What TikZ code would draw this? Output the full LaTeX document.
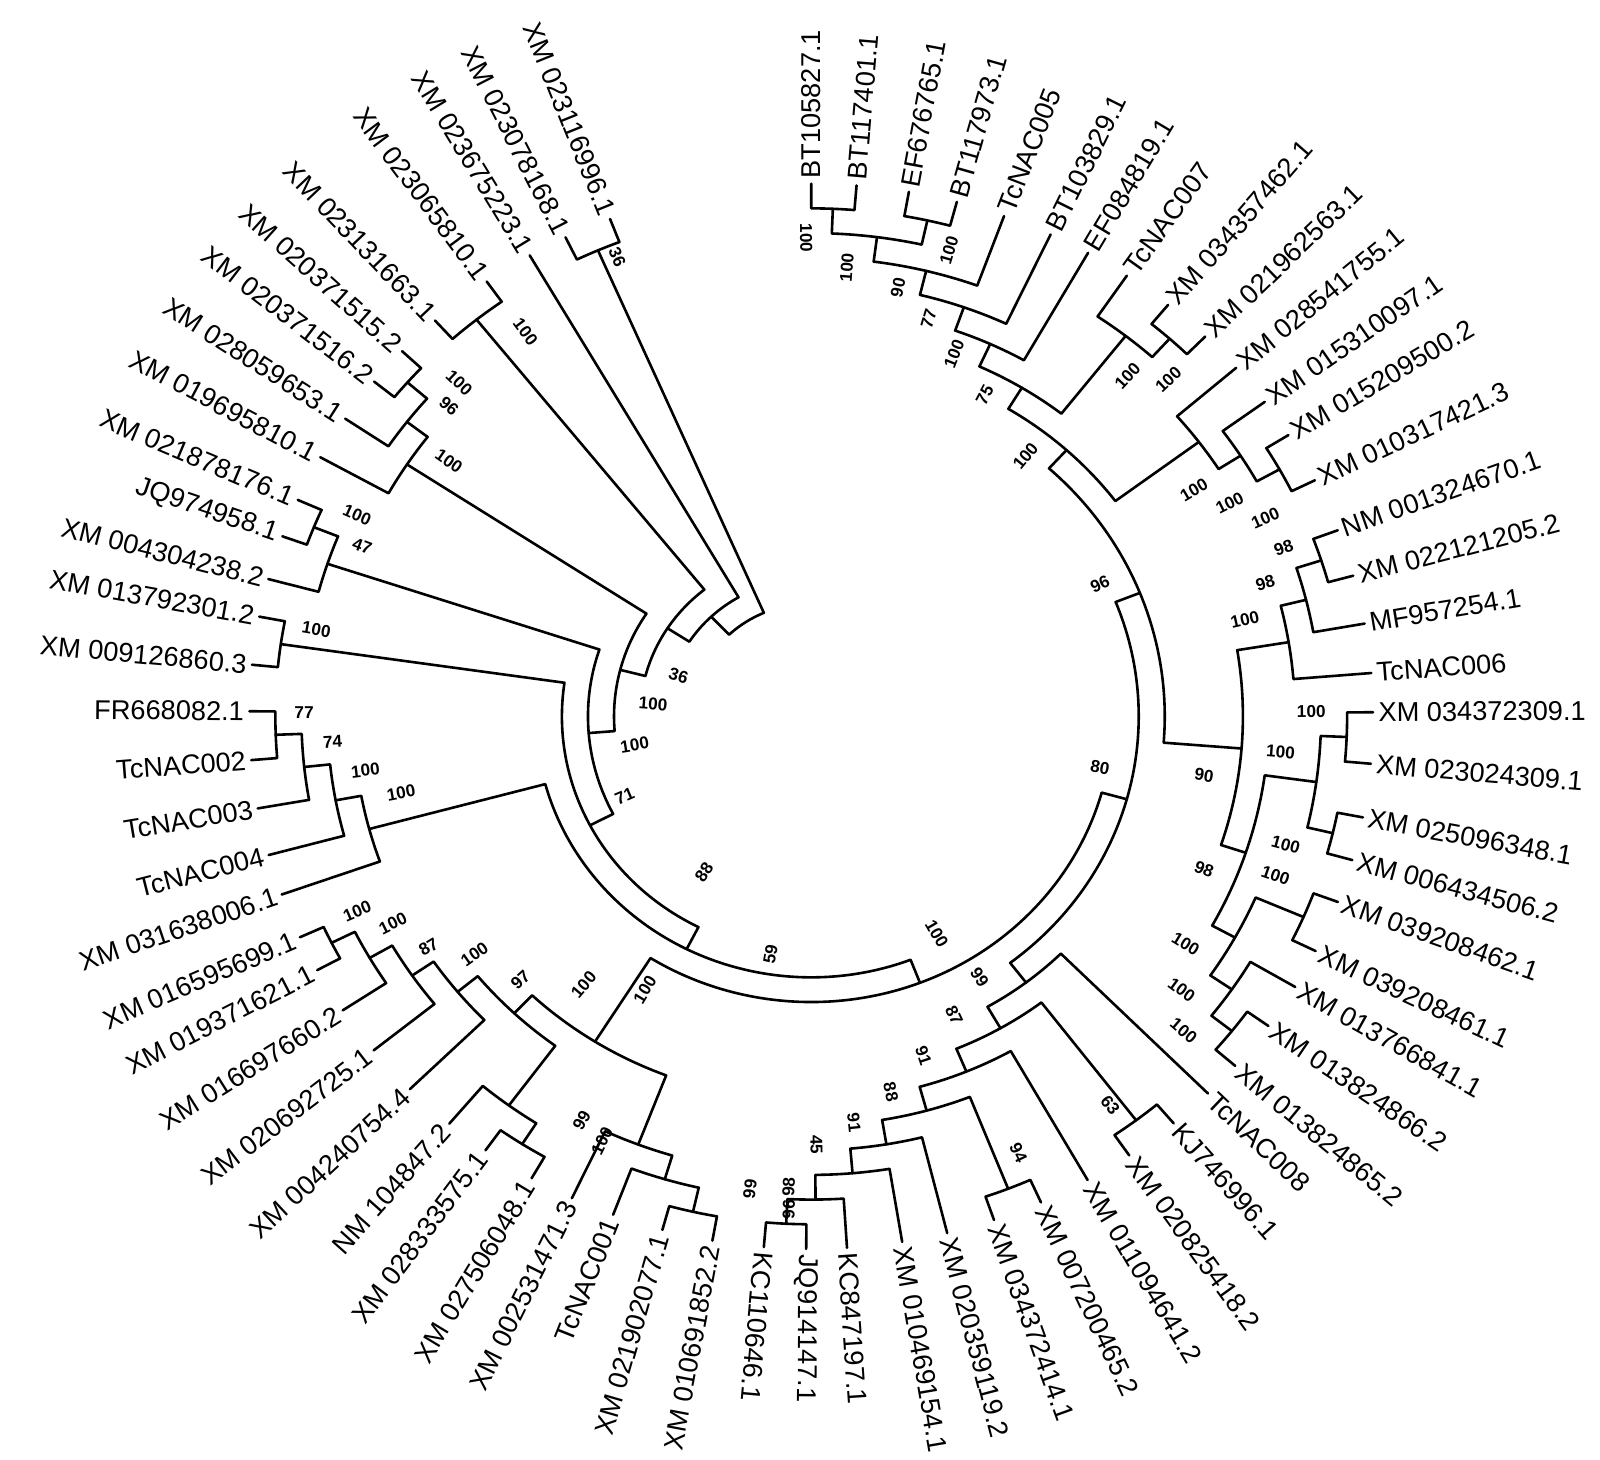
\documentclass[tikz,border=0pt]{standalone}
\usepackage{fontspec}
\setmainfont{Liberation Sans}
\newcount\bscount
\begin{document}
\begin{tikzpicture}[x=0.5102pt,y=0.5102pt,
  br/.style={line width=1.3pt,line join=round,line cap=round},
  leaflab/.style={font=\fontsize{13.6}{14}\selectfont,inner sep=2.5pt},
  bslab/.style={font=\fontsize{8.6}{9}\selectfont\bfseries,inner sep=0pt}]
\fill[white] (0,0) rectangle (1568,-1430);
\useasboundingbox (0,0) rectangle (1568,-1430);
% ---------- macros ----------
\newcommand\leafnode[5]{%
  \pgfmathsetmacro\tA{atan2(702-#3,(#2-795)/1.055)}%
  \pgfmathsetmacro\tA{\tA>100?\tA-360:\tA}%
  \expandafter\xdef\csname TA#1\endcsname{\tA}%
  \expandafter\xdef\csname TH#1\endcsname{0}%
  \pgfmathsetmacro\tP{atan2(sin(\tA),1.055*cos(\tA))}%
  \coordinate (#1) at ({795+1.055*522*cos(\tA)},{-702+522*sin(\tA)});%
  \ifx o#4%
    \node[leaflab,anchor=west,rotate=\tP] (#1t) at (#1) {#5};%
  \else
    \pgfmathsetmacro\tP{\tP+180}%
    \node[leaflab,anchor=east,rotate=\tP] (#1t) at (#1) {#5};%
  \fi}
\newcommand\inode[3]{%
  \edef\tA{\csname TA#2\endcsname}%
  \edef\tB{\csname TA#3\endcsname}%
  \pgfmathsetmacro\tM{(\tA+\tB)/2}%
  \pgfmathtruncatemacro\tH{max(\csname TH#2\endcsname,\csname TH#3\endcsname)+1}%
  \pgfmathsetmacro\tR{522-24.2*\tH}%
  \expandafter\xdef\csname TA#1\endcsname{\tM}%
  \expandafter\xdef\csname TH#1\endcsname{\tH}%
  \coordinate (#1) at ({795+1.055*\tR*cos(\tM)},{-702+\tR*sin(\tM)});%
  \coordinate (#1a) at ({795+1.055*\tR*cos(\tA)},{-702+\tR*sin(\tA)});%
  \coordinate (#1b) at ({795+1.055*\tR*cos(\tB)},{-702+\tR*sin(\tB)});%
  \draw[br] (#2) -- (#1a) arc[start angle=\tA,end angle=\tB,x radius={1.055*\tR},y radius=\tR] -- (#3);}
\newcommand\bs[3]{%
  \global\advance\bscount by 1
  \pgfmathsetmacro\tA{atan2(702-#2,(#1-795)/1.055)}%
  \pgfmathsetmacro\tP{atan2(sin(\tA),1.055*cos(\tA))}%
  \pgfmathsetmacro\tP{abs(\tP)>90?\tP+180:\tP}%
  \node[bslab,rotate=\tP] (bs\the\bscount) at (#1,-#2) {#3};}
% ---------- leaves ----------
\leafnode{l1}{795}{180}{o}{BT105827.1}
\leafnode{l2}{840}{175}{o}{BT117401.1}
\leafnode{l3}{887}{208}{o}{EF676765.1}
\leafnode{l4}{932}{218}{o}{BT117973.1}
\leafnode{l5}{975}{235}{o}{TcNAC005}
\leafnode{l6}{1022}{245}{o}{BT103829.1}
\leafnode{l7}{1062}{255}{o}{EF084819.1}
\leafnode{l8}{1108}{265}{o}{TcNAC007}
\leafnode{l9}{1148}{295}{o}{XM 034357462.1}
\leafnode{l10}{1183}{328}{o}{XM 021962563.1}
\leafnode{l11}{1212}{360}{o}{XM 028541755.1}
\leafnode{l12}{1245}{390}{o}{XM 015310097.1}
\leafnode{l13}{1265}{425}{o}{XM 015209500.2}
\leafnode{l14}{1290}{470}{o}{XM 010317421.3}
\leafnode{l15}{1310}{520}{o}{NM 001324670.1}
\leafnode{l16}{1323}{565}{o}{XM 022121205.2}
\leafnode{l17}{1332}{612}{o}{MF957254.1}
\leafnode{l18}{1338}{660}{o}{TcNAC006}
\leafnode{l19}{1342}{698}{o}{XM 034372309.1}
\leafnode{l20}{1338}{748}{o}{XM 023024309.1}
\leafnode{l21}{1330}{800}{o}{XM 025096348.1}
\leafnode{l22}{1322}{842}{o}{XM 006434506.2}
\leafnode{l23}{1300}{880}{o}{XM 039208462.1}
\leafnode{l24}{1285}{930}{o}{XM 039208461.1}
\leafnode{l25}{1260}{962}{o}{XM 013766841.1}
\leafnode{l26}{1235}{1000}{o}{XM 013824866.2}
\leafnode{l27}{1205}{1040}{o}{XM 013824865.2}
\leafnode{l28}{1180}{1068}{o}{TcNAC008}
\leafnode{l29}{1145}{1095}{o}{KJ746996.1}
\leafnode{l30}{1105}{1130}{o}{XM 020825418.2}
\leafnode{l31}{1068}{1160}{o}{XM 011094641.2}
\leafnode{l32}{1020}{1178}{o}{XM 007200465.2}
\leafnode{l33}{975}{1198}{o}{XM 034372414.1}
\leafnode{l34}{930}{1215}{o}{XM 020359119.2}
\leafnode{l35}{885}{1222}{o}{XM 010469154.1}
\leafnode{l36}{830}{1222}{o}{KC847197.1}
\leafnode{l37}{790}{1228}{o}{JQ914147.1}
\leafnode{l38}{748}{1228}{o}{KC110646.1}
\leafnode{l39}{703}{1190}{i}{XM 010691852.2}
\leafnode{l40}{655}{1185}{i}{XM 021902077.1}
\leafnode{l41}{605}{1180}{i}{TcNAC001}
\leafnode{l42}{565}{1165}{i}{XM 002531471.3}
\leafnode{l43}{525}{1148}{i}{XM 027506048.1}
\leafnode{l44}{485}{1115}{i}{XM 028333575.1}
\leafnode{l45}{452}{1088}{i}{NM 104847.2}
\leafnode{l46}{415}{1055}{i}{XM 004240754.4}
\leafnode{l47}{385}{1015}{i}{XM 020692725.1}
\leafnode{l48}{352}{980}{i}{XM 016697660.2}
\leafnode{l49}{322}{945}{i}{XM 019371621.1}
\leafnode{l50}{302}{915}{i}{XM 016595699.1}
\leafnode{l51}{272}{878}{i}{XM 031638006.1}
\leafnode{l52}{263}{838}{i}{TcNAC004}
\leafnode{l53}{248}{793}{i}{TcNAC003}
\leafnode{l54}{245}{745}{i}{TcNAC002}
\leafnode{l55}{245}{697}{i}{FR668082.1}
\leafnode{l56}{253}{652}{i}{XM 009126860.3}
\leafnode{l57}{258}{605}{i}{XM 013792301.2}
\leafnode{l58}{265}{568}{i}{XM 004304238.2}
\leafnode{l59}{275}{525}{i}{JQ974958.1}
\leafnode{l60}{292}{490}{i}{XM 021878176.1}
\leafnode{l61}{308}{445}{i}{XM 019695810.1}
\leafnode{l62}{330}{405}{i}{XM 028059653.1}
\leafnode{l63}{368}{375}{i}{XM 020371516.2}
\leafnode{l64}{395}{345}{i}{XM 020371515.2}
\leafnode{l65}{430}{318}{i}{XM 023131663.1}
\leafnode{l66}{480}{280}{i}{XM 023065810.1}
\leafnode{l67}{522}{255}{i}{XM 023675223.1}
\leafnode{l68}{558}{240}{i}{XM 023078168.1}
\leafnode{l69}{598}{215}{i}{XM 023116996.1}
% ---------- internal nodes ----------
\inode{a1}{l1}{l2}
\inode{a2}{l3}{l4}
\inode{a3}{a1}{a2}
\inode{a4}{a3}{l5}
\inode{a5}{a4}{l6}
\inode{a6}{a5}{l7}
\inode{b1}{l9}{l10}
\inode{b2}{l8}{b1}
\inode{a7}{a6}{b2}
\inode{c3}{l13}{l14}
\inode{c2}{l12}{c3}
\inode{cc}{l11}{c2}
\inode{nA}{a7}{cc}
\inode{d1}{l15}{l16}
\inode{d2}{d1}{l17}
\inode{d3}{d2}{l18}
\inode{d4}{l19}{l20}
\inode{d5}{l21}{l22}
\inode{d6}{d4}{d5}
\inode{e1}{l23}{l24}
\inode{e3}{l26}{l27}
\inode{e2}{l25}{e3}
\inode{ee}{e1}{e2}
\inode{d8}{d6}{ee}
\inode{nD}{d3}{d8}
\inode{R96}{nA}{nD}
\inode{q1}{l37}{l38}
\inode{q2}{l36}{q1}
\inode{q3}{l35}{q2}
\inode{q4}{l34}{q3}
\inode{n94}{l32}{l33}
\inode{q5}{n94}{q4}
\inode{q6}{l31}{q5}
\inode{n63}{l29}{l30}
\inode{q7}{n63}{q6}
\inode{q8}{l28}{q7}
\inode{N80}{R96}{q8}
\inode{k1}{l39}{l40}
\inode{k2}{k1}{l41}
\inode{k3}{k2}{l42}
\inode{j5}{l43}{l44}
\inode{j6}{j5}{l45}
\inode{j1}{l49}{l50}
\inode{j2}{l48}{j1}
\inode{j3}{l47}{j2}
\inode{j4}{l46}{j3}
\inode{j7}{j6}{j4}
\inode{JK}{k3}{j7}
\inode{P8}{N80}{JK}
\inode{i1}{l54}{l55}
\inode{i2}{l53}{i1}
\inode{i3}{l52}{i2}
\inode{i4}{l51}{i3}
\inode{P7}{P8}{i4}
\inode{hh}{l56}{l57}
\inode{P6}{P7}{hh}
\inode{g4}{l59}{l60}
\inode{g5}{l58}{g4}
\inode{P5}{P6}{g5}
\inode{g1}{l63}{l64}
\inode{g2}{l62}{g1}
\inode{g3}{l61}{g2}
\inode{P4}{P5}{g3}
\inode{f3}{l65}{l66}
\inode{P3}{P4}{f3}
\inode{P2}{P3}{l67}
\inode{f1}{l68}{l69}
\inode{P1}{P2}{f1}
% ---------- bootstrap values ----------
\bs{790}{233}{100}
\bs{830}{262}{100}
\bs{930}{245}{100}
\bs{880}{282}{90}
\bs{910}{312}{77}
\bs{935}{347}{100}
\bs{965}{387}{75}
\bs{1005}{447}{100}
\bs{1105}{368}{100}
\bs{1145}{372}{100}
\bs{1170}{480}{100}
\bs{1205}{493}{100}
\bs{1240}{508}{100}
\bs{1258}{537}{98}
\bs{1240}{571}{98}
\bs{1220}{607}{100}
\bs{1078}{572}{96}
\bs{1285}{697}{100}
\bs{1255}{737}{100}
\bs{1180}{760}{90}
\bs{1078}{752}{80}
\bs{1260}{828}{100}
\bs{1180}{852}{98}
\bs{1250}{858}{100}
\bs{1162}{925}{100}
\bs{1158}{970}{100}
\bs{1160}{1010}{100}
\bs{1088}{1083}{63}
\bs{960}{958}{99}
\bs{935}{995}{87}
\bs{905}{1035}{91}
\bs{873}{1070}{88}
\bs{998}{1130}{94}
\bs{837}{1100}{91}
\bs{800}{1122}{45}
\bs{735}{1165}{99}
\bs{773}{1163}{98}
\bs{773}{1185}{96}
\bs{918}{915}{100}
\bs{755}{935}{59}
\bs{690}{855}{88}
\bs{632}{970}{100}
\bs{572}{965}{100}
\bs{510}{960}{97}
\bs{465}{935}{100}
\bs{420}{928}{87}
\bs{385}{905}{100}
\bs{350}{893}{100}
\bs{570}{1098}{99}
\bs{590}{1118}{100}
\bs{393}{777}{100}
\bs{358}{755}{100}
\bs{326}{727}{74}
\bs{298}{698}{77}
\bs{310}{617}{100}
\bs{355}{535}{47}
\bs{350}{505}{100}
\bs{440}{452}{100}
\bs{440}{398}{96}
\bs{450}{375}{100}
\bs{515}{325}{100}
\bs{605}{252}{36}
\bs{665}{662}{36}
\bs{640}{690}{100}
\bs{622}{730}{100}
\bs{612}{780}{71}
\end{tikzpicture}
\end{document}
